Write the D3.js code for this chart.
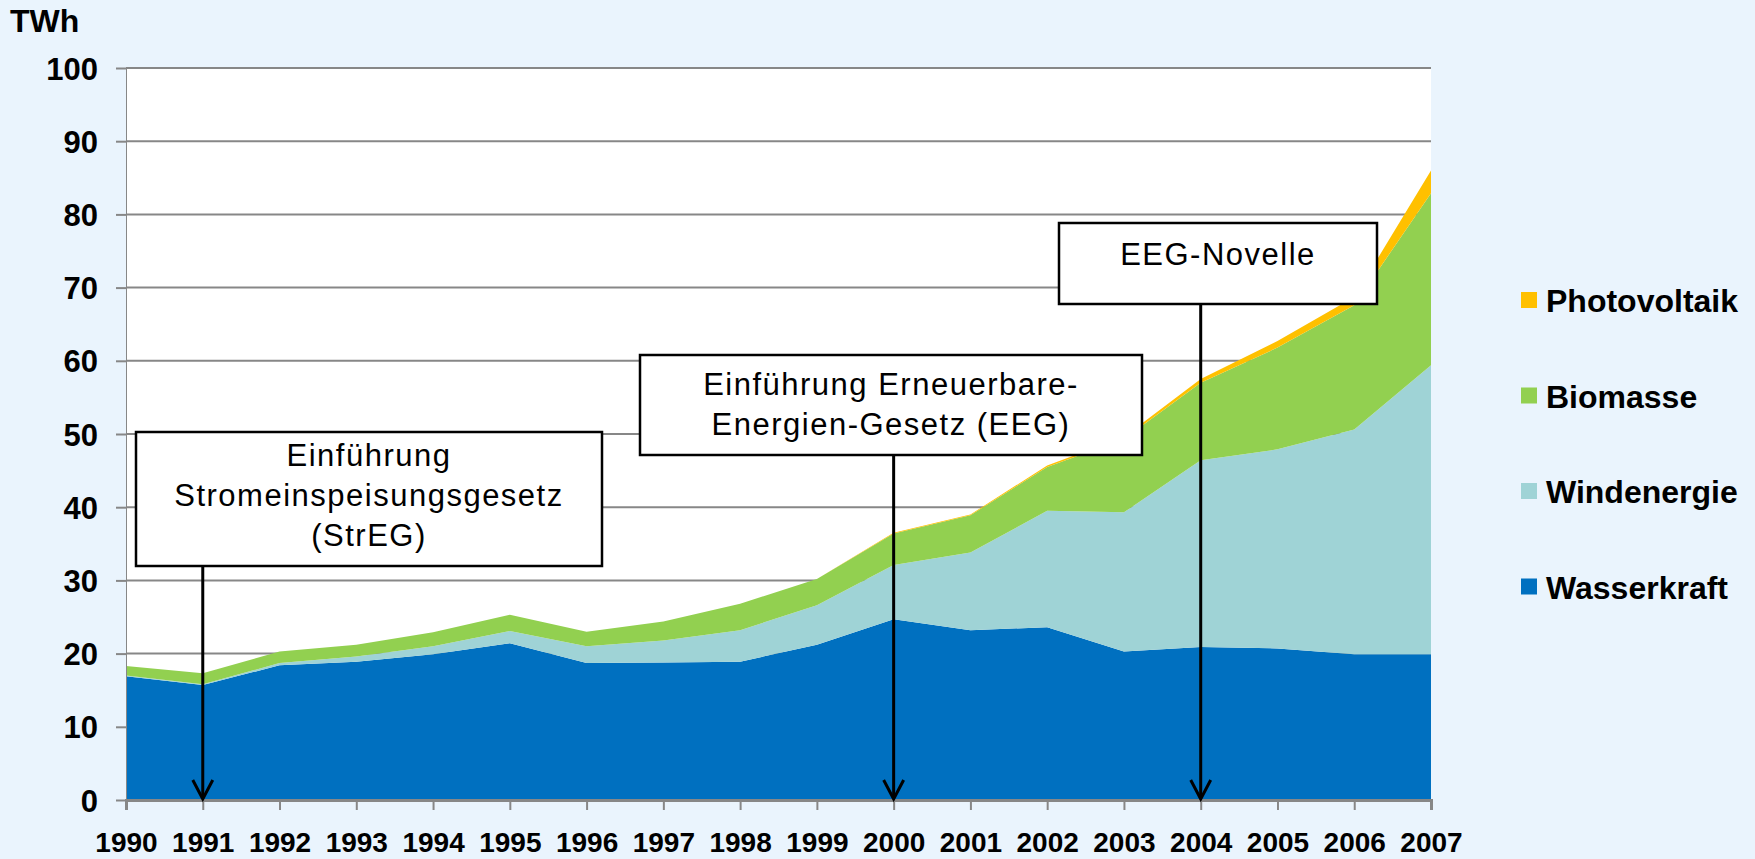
<!DOCTYPE html>
<html lang="de">
<head>
<meta charset="utf-8">
<script src="https://d3js.org/d3.v7.min.js"></script>
<style>
  body { margin: 0; background: #eaf4fd; }
  svg { display: block; }
  text { font-family: "Liberation Sans", Arial, sans-serif; fill: #000; }
  .axis text { font-weight: bold; }
  .axis path, .axis line { stroke: #878787; }
  .note text { font-size: 31px; letter-spacing: 1.5px; }
  .legend text { font-size: 32px; font-weight: bold; }
</style>
</head>
<body>
<div id="chart"></div>
<script>
// Stromerzeugung aus erneuerbaren Energien in Deutschland, TWh
var years = [1990, 1991, 1992, 1993, 1994, 1995, 1996, 1997, 1998, 1999,
             2000, 2001, 2002, 2003, 2004, 2005, 2006, 2007];
var wasserkraft  = [16.9, 15.7, 18.4, 18.9, 19.9, 21.4, 18.7, 18.8, 18.9, 21.2,
                    24.7, 23.2, 23.6, 20.3, 20.9, 20.7, 19.9, 19.9];
var windenergie  = [0.1, 0.1, 0.3, 0.7, 1.1, 1.7, 2.3, 3.0, 4.3, 5.4,
                    7.4, 10.6, 15.9, 19.0, 25.5, 27.2, 30.7, 39.5];
var biomasse     = [1.3, 1.5, 1.6, 1.6, 1.9, 2.2, 2.0, 2.6, 3.6, 3.6,
                    4.3, 5.1, 6.0, 10.0, 10.6, 13.9, 17.0, 23.5];
var photovoltaik = [0, 0, 0, 0, 0, 0, 0, 0, 0, 0,
                    0.1, 0.1, 0.2, 0.3, 0.5, 0.9, 1.1, 3.1];

var seriesNames = ["Wasserkraft", "Windenergie", "Biomasse", "Photovoltaik"];
var yTicks = [0, 10, 20, 30, 40, 50, 60, 70, 80, 90, 100];

var notes = [
  { year: 1991, lines: ["Einführung", "Stromeinspeisungsgesetz", "(StrEG)"] },
  { year: 2000, lines: ["Einführung Erneuerbare-", "Energien-Gesetz (EEG)"] },
  { year: 2004, lines: ["EEG-Novelle"] }
];

var colors = {
  Wasserkraft: "#0070c0",
  Windenergie: "#9fd3d6",
  Biomasse: "#92d050",
  Photovoltaik: "#ffc000"
};

// box geometry for the notes (left, top, right, bottom, first baseline)
var noteBoxes = [
  [136, 432, 602, 566, 466],
  [640, 355, 1142, 455, 395],
  [1059, 223, 1377, 304, 265]
];

var width = 1755, height = 859;
var plotLeft = 126, plotRight = 1431, plotTop = 68, plotBottom = 800;

var rows = years.map(function(yr, i) {
  return {
    year: yr,
    Wasserkraft: wasserkraft[i],
    Windenergie: windenergie[i],
    Biomasse: biomasse[i],
    Photovoltaik: photovoltaik[i]
  };
});

var svg = d3.select("#chart").append("svg")
  .attr("width", width)
  .attr("height", height);

var x = d3.scaleLinear().domain([1990, 2007]).range([plotLeft, plotRight]);
var y = d3.scaleLinear().domain([0, 100]).range([plotBottom, plotTop]);

// plot background
svg.append("rect")
  .attr("x", plotLeft).attr("y", plotTop)
  .attr("width", plotRight - plotLeft).attr("height", plotBottom - plotTop)
  .attr("fill", "#fff");

// gridlines
svg.append("g").selectAll("line")
  .data(yTicks.filter(function(d) { return d > 0; }))
  .enter().append("line")
  .attr("x1", plotLeft).attr("x2", plotRight)
  .attr("y1", function(d) { return y(d); })
  .attr("y2", function(d) { return y(d); })
  .attr("stroke", "#878787")
  .attr("stroke-width", 2);

// stacked areas
var stack = d3.stack().keys(seriesNames);
var layers = stack(rows);

var area = d3.area()
  .x(function(d) { return x(d.data.year); })
  .y0(function(d) { return y(d[0]); })
  .y1(function(d) { return y(d[1]); });

svg.append("g").selectAll("path")
  .data(layers)
  .enter().append("path")
  .attr("fill", function(d) { return colors[d.key]; })
  .attr("d", area);

// y axis
var yAxis = svg.append("g")
  .attr("class", "axis")
  .attr("transform", "translate(" + plotLeft + ",0)")
  .call(d3.axisLeft(y).tickValues(yTicks).tickSize(10).tickPadding(18));
yAxis.select(".domain").attr("stroke", "#b4b4b4").attr("stroke-width", 1);
yAxis.selectAll(".tick line").attr("stroke-width", 2);
yAxis.selectAll(".tick text").style("font-size", "31px").attr("dy", "0.36em");

// x axis
var xAxis = svg.append("g")
  .attr("class", "axis")
  .attr("transform", "translate(0," + plotBottom + ")")
  .call(d3.axisBottom(x).tickValues(years).tickFormat(d3.format("d")).tickSize(10).tickPadding(22));
xAxis.select(".domain").attr("stroke-width", 3);
xAxis.selectAll(".tick line").attr("stroke-width", 2);
xAxis.selectAll(".tick text").style("font-size", "28px");

// unit label
svg.append("text")
  .attr("x", 10).attr("y", 32)
  .style("font-size", "32px").style("font-weight", "bold")
  .text("TWh");

// notes with arrows
var note = svg.append("g").attr("class", "note").selectAll("g")
  .data(notes)
  .enter().append("g");

note.append("line")
  .attr("x1", function(d) { return x(d.year); })
  .attr("x2", function(d) { return x(d.year); })
  .attr("y1", function(d, i) { return noteBoxes[i][3]; })
  .attr("y2", plotBottom - 2)
  .attr("stroke", "#000")
  .attr("stroke-width", 3);

note.append("path")
  .attr("d", function(d) {
    var px = x(d.year);
    return "M" + (px - 10) + "," + (plotBottom - 20) + "L" + px + "," + (plotBottom - 1) +
           "L" + (px + 10) + "," + (plotBottom - 20);
  })
  .attr("fill", "none")
  .attr("stroke", "#000")
  .attr("stroke-width", 3);

note.append("rect")
  .attr("x", function(d, i) { return noteBoxes[i][0]; })
  .attr("y", function(d, i) { return noteBoxes[i][1]; })
  .attr("width", function(d, i) { return noteBoxes[i][2] - noteBoxes[i][0]; })
  .attr("height", function(d, i) { return noteBoxes[i][3] - noteBoxes[i][1]; })
  .attr("fill", "#fff")
  .attr("stroke", "#000")
  .attr("stroke-width", 2.5);

note.each(function(d, i) {
  var b = noteBoxes[i];
  var g = d3.select(this);
  d.lines.forEach(function(line, j) {
    g.append("text")
      .attr("x", (b[0] + b[2]) / 2)
      .attr("y", b[4] + j * 40)
      .attr("text-anchor", "middle")
      .text(line);
  });
});

// legend, top entry is Photovoltaik
var legend = svg.append("g").attr("class", "legend").selectAll("g")
  .data(seriesNames.slice().reverse())
  .enter().append("g")
  .attr("transform", function(d, i) { return "translate(1521," + (300 + i * 95.5) + ")"; });

legend.append("rect")
  .attr("x", 0).attr("y", -8)
  .attr("width", 16).attr("height", 16)
  .attr("fill", function(d) { return colors[d]; });

legend.append("text")
  .attr("x", 25).attr("y", 12)
  .text(function(d) { return d; });
</script>
</body>
</html>
